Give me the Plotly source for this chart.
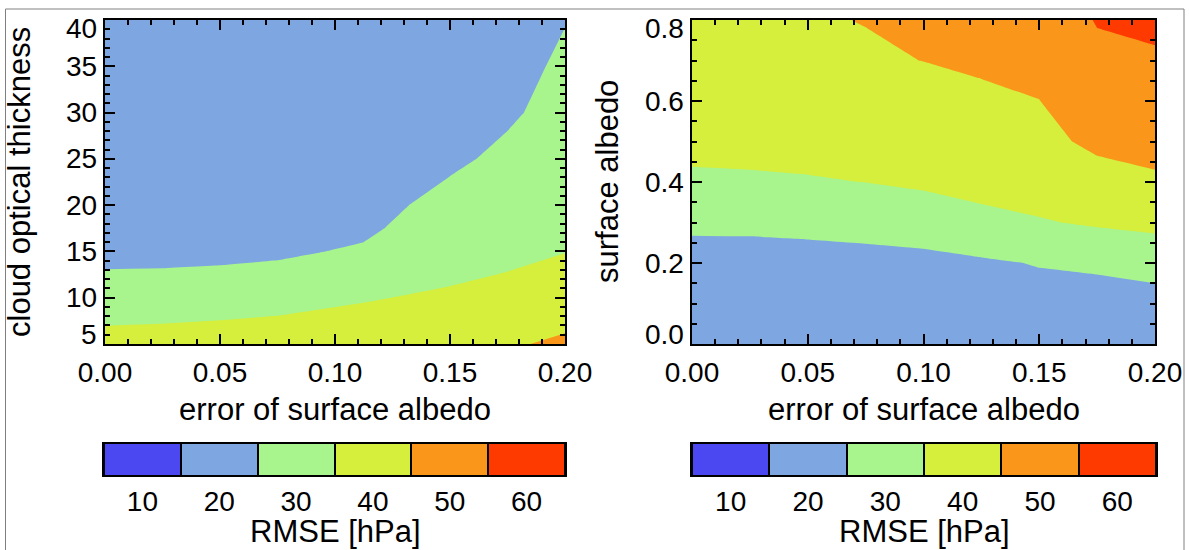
import numpy as np
import plotly.graph_objects as go

# ---------------- data ----------------
# left panel: RMSE vs error of surface albedo (x) and cloud optical thickness (y)
left_albedo_error = [0.0, 0.025, 0.05, 0.075, 0.1125, 0.15, 0.175, 0.2]
left_cloud_tau = [5, 7.5, 10, 12.5, 15, 17.5, 20, 25, 30, 35, 40]
# one list per albedo-error column, values listed bottom (tau=5) to top (tau=40)
left_rmse_columns = [
    [38.0, 34.2, 30.2, 25.6, 23.0, 21.5, 20.6, 19.4, 18.7, 18.2, 17.8],
    [38.4, 34.5, 30.5, 25.7, 23.1, 21.7, 20.8, 19.6, 18.9, 18.4, 18.0],
    [38.8, 35.1, 31.0, 26.0, 23.5, 22.0, 21.1, 19.9, 19.2, 18.7, 18.3],
    [39.3, 35.9, 31.8, 26.6, 24.0, 22.5, 21.5, 20.3, 19.6, 19.1, 18.7],
    [40.4, 37.2, 34.4, 30.0, 25.8, 23.8, 22.8, 21.6, 20.9, 20.4, 20.0],
    [41.8, 38.8, 36.3, 33.7, 31.0, 28.8, 27.0, 23.8, 22.6, 21.9, 21.4],
    [44.0, 41.0, 38.5, 35.3, 33.0, 31.0, 29.5, 26.4, 24.07, 23.0, 22.3],
    [46.5, 43.3, 40.5, 37.5, 34.8, 32.5, 30.8, 28.6, 27.3, 26.0, 24.8],
]

# right panel: RMSE vs error of surface albedo (x) and surface albedo (y)
right_albedo_error = [0.0, 0.025, 0.05, 0.075, 0.1, 0.125, 0.15, 0.175, 0.2]
right_surface_albedo = [0.0, 0.1, 0.2, 0.3, 0.4, 0.5, 0.6, 0.7, 0.8]
right_rmse_columns = [
    [17.0, 19.5, 22.5, 26.2, 33.5, 37.5, 40.0, 42.0, 43.5],
    [17.3, 19.8, 22.5, 26.3, 33.7, 38.0, 40.6, 42.7, 44.3],
    [17.7, 20.2, 22.8, 26.6, 34.2, 38.6, 41.2, 43.2, 44.6],
    [18.2, 20.7, 23.2, 27.0, 35.1, 39.3, 42.0, 44.4, 45.13],
    [18.8, 21.2, 23.6, 27.6, 37.0, 40.5, 43.2, 45.05, 46.8],
    [19.5, 21.8, 24.2, 30.0, 41.0, 43.0, 44.4, 45.5, 47.5],
    [20.5, 22.8, 25.3, 34.2, 40.0, 42.5, 44.9, 47.2, 49.0],
    [21.5, 24.0, 25.4, 36.3, 41.5, 46.9, 50.0, 53.0, 55.5],
    [21.0, 23.0, 27.0, 38.0, 44.0, 47.3, 50.5, 53.8, 57.0],
]

rmse_classes = [10, 20, 30, 40, 50, 60]
class_colors = ["#4B48F2", "#7EA6E0", "#A8F58E", "#D6EE3C", "#FA9619", "#FF3A00"]

left_xticks = [0.0, 0.05, 0.10, 0.15, 0.20]
left_yticks = [5, 10, 15, 20, 25, 30, 35, 40]
right_yticks = [0.0, 0.2, 0.4, 0.6, 0.8]

# ---------------- styling helpers ----------------
FONT = "Liberation Sans, Arial, Helvetica, sans-serif"
TICK_SIZE = 28
TITLE_SIZE = 31
W, H = 1189, 550

def px_x(p):
    return p / W

def px_y(p):
    return 1 - p / H

# discrete colourscale: band boundaries chosen so class midpoints fall inside
bounds = [0.0, 0.2, 0.35, 0.5, 0.65, 0.8, 1.0]
colorscale = []
for i, c in enumerate(class_colors):
    colorscale.append([bounds[i], c])
    colorscale.append([bounds[i + 1], c])

z_left = np.array(left_rmse_columns).T
z_right = np.array(right_rmse_columns).T

contour_levels = dict(start=5, end=65, size=10, coloring="fill", showlines=False)

fig = go.Figure()
fig.add_trace(go.Contour(
    x=left_albedo_error, y=left_cloud_tau, z=z_left,
    contours=contour_levels, colorscale=colorscale, zmin=5, zmax=65,
    showscale=False, line=dict(width=0, smoothing=0), hoverinfo="skip",
    xaxis="x", yaxis="y"))
fig.add_trace(go.Contour(
    x=right_albedo_error, y=right_surface_albedo, z=z_right,
    contours=contour_levels, colorscale=colorscale, zmin=5, zmax=65,
    showscale=False, line=dict(width=0, smoothing=0), hoverinfo="skip",
    xaxis="x2", yaxis="y2"))

# colour bars as heatmaps
for xa, ya in (("x3", "y3"), ("x4", "y4")):
    fig.add_trace(go.Heatmap(
        x=rmse_classes, y=[0], z=[rmse_classes], colorscale=colorscale,
        zmin=5, zmax=65, showscale=False, xgap=2, hoverinfo="skip",
        xaxis=xa, yaxis=ya))

main_dom_y = [px_y(344), px_y(20)]
left_dom_x = [px_x(105), px_x(565)]
right_dom_x = [px_x(692), px_x(1155)]
cb_dom_y = [px_y(475), px_y(444)]
cb_left_x = [px_x(104), px_x(565)]
cb_right_x = [px_x(692), px_x(1156)]

axis_common = dict(
    showline=True, linecolor="black", linewidth=2, mirror="ticks",
    ticks="inside", ticklen=10, tickwidth=2, tickcolor="black",
    showgrid=False, zeroline=False, automargin=False,
    tickfont=dict(family=FONT, size=TICK_SIZE, color="black"),
)

xaxis_main = dict(axis_common, range=[0, 0.2], tickvals=left_xticks, tickformat=".2f",
                  ticklabelstandoff=2,
                  minor=dict(ticks="inside", ticklen=5, tickwidth=2, tickcolor="black", dtick=0.01, showgrid=False))

cb_x_common = dict(range=[5, 65], showline=True, linecolor="black", linewidth=2,
                   mirror=True, ticks="", tickvals=rmse_classes, showgrid=False, zeroline=False,
                   automargin=False, ticklabelstandoff=0,
                   tickfont=dict(family=FONT, size=TICK_SIZE, color="black"))
cb_y_common = dict(range=[-0.5, 0.5], showline=True, linecolor="black", linewidth=2, mirror=True,
                   showticklabels=False, ticks="", showgrid=False, zeroline=False, automargin=False)

fig.update_layout(
    template="none",
    width=W, height=H, margin=dict(l=0, r=0, t=0, b=0, pad=0, autoexpand=False),
    paper_bgcolor="white", plot_bgcolor="white", showlegend=False,
    xaxis=dict(xaxis_main, domain=left_dom_x, anchor="y"),
    yaxis=dict(axis_common, domain=main_dom_y, anchor="x", range=[5, 40],
               tickvals=left_yticks, showticklabels=False,
               minor=dict(ticks="inside", ticklen=5, tickwidth=2, tickcolor="black", dtick=1, showgrid=False)),
    xaxis2=dict(xaxis_main, domain=right_dom_x, anchor="y2"),
    yaxis2=dict(axis_common, domain=main_dom_y, anchor="x2", range=[0, 0.8],
                tickvals=right_yticks, showticklabels=False,
                minor=dict(ticks="inside", ticklen=5, tickwidth=2, tickcolor="black", dtick=0.05, showgrid=False)),
    xaxis3=dict(cb_x_common, domain=cb_left_x, anchor="y3"),
    yaxis3=dict(cb_y_common, domain=cb_dom_y, anchor="x3"),
    xaxis4=dict(cb_x_common, domain=cb_right_x, anchor="y4"),
    yaxis4=dict(cb_y_common, domain=cb_dom_y, anchor="x4"),
)

# black backing behind colour bars so the cell gaps read as separators
for xa, ya in (("x3", "y3"), ("x4", "y4")):
    fig.add_shape(type="rect", xref=f"{xa} domain", yref=f"{ya} domain", x0=0, x1=1, y0=0, y1=1,
                  fillcolor="black", line=dict(width=0), layer="below")

# outer frame
fig.add_shape(type="rect", xref="paper", yref="paper", x0=px_x(5.5), x1=px_x(1184),
              y0=-0.05, y1=px_y(9), line=dict(color="#808080", width=1), fillcolor="rgba(0,0,0,0)")

annotations = []
# y tick labels (end labels kept inside the frame as in the original)
def ytick_labels(ticks, yref, xref, fmt):
    out = []
    for i, v in enumerate(ticks):
        shift = 0
        if i == 0:
            shift = 10
        elif i == len(ticks) - 1:
            shift = -8
        out.append(dict(x=0, y=v, xref=xref, yref=yref, text=fmt(v), showarrow=False,
                        xanchor="right", yanchor="middle", xshift=-6, yshift=shift,
                        font=dict(family=FONT, size=TICK_SIZE, color="black")))
    return out

annotations += ytick_labels(left_yticks, "y", "x domain", lambda v: f"{v:d}")
annotations += ytick_labels(right_yticks, "y2", "x2 domain", lambda v: f"{v:.1f}")

title_font = dict(family=FONT, size=TITLE_SIZE, color="black")
annotations += [
    dict(x=px_x(19), y=px_y(182), xref="paper", yref="paper", text="cloud optical thickness",
         textangle=-90, showarrow=False, xanchor="center", yanchor="middle", font=title_font),
    dict(x=px_x(607), y=px_y(182), xref="paper", yref="paper", text="surface albedo",
         textangle=-90, showarrow=False, xanchor="center", yanchor="middle", font=title_font),
    dict(x=px_x(335), y=px_y(409), xref="paper", yref="paper", text="error of surface albedo",
         showarrow=False, xanchor="center", yanchor="middle", font=title_font),
    dict(x=px_x(923.5), y=px_y(409), xref="paper", yref="paper", text="error of surface albedo",
         showarrow=False, xanchor="center", yanchor="middle", font=title_font),
    dict(x=px_x(335), y=px_y(531), xref="paper", yref="paper", text="RMSE [hPa]",
         showarrow=False, xanchor="center", yanchor="middle", font=title_font),
    dict(x=px_x(924), y=px_y(531), xref="paper", yref="paper", text="RMSE [hPa]",
         showarrow=False, xanchor="center", yanchor="middle", font=title_font),
]
fig.update_layout(annotations=annotations)

fig.write_html("out.html")
